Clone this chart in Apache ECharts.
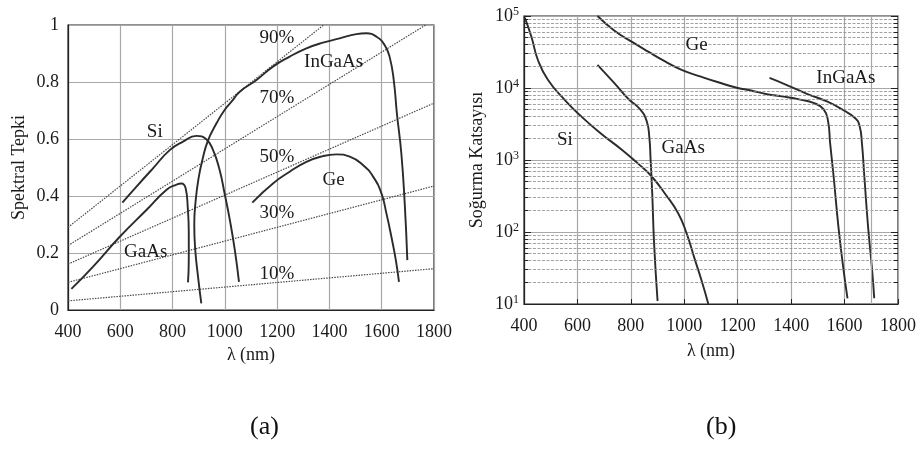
<!DOCTYPE html>
<html><head><meta charset="utf-8">
<script src="https://cdn.jsdelivr.net/npm/echarts@6/dist/echarts.min.js"></script>
<style>html,body{margin:0;padding:0;background:#fff}#c{width:922px;height:451px}</style>
</head><body><div id="c"></div>
<script>
// ---------- (a) Spectral response ----------
const wavelengthTicks = [400, 600, 800, 1000, 1200, 1400, 1600, 1800];
const responseTicks = [0, 0.2, 0.4, 0.6, 0.8, 1];

const siResponse = [[608,0.377],[662,0.433],[725,0.497],[789,0.561],[840,0.591],[891,0.611],[929,0.599],[955,0.561],[980,0.491],[999,0.409],[1019,0.316],[1038,0.211],[1054,0.099]];
const gaasResponse = [[413,0.074],[496,0.152],[598,0.257],[700,0.351],[776,0.421],[815,0.440],[834,0.444],[850,0.427],[858,0.36],[862,0.27],[862,0.18],[859,0.097]];
const ingaasResponse = [[910,0.023],[897,0.12],[886,0.22],[883,0.30],[888,0.38],[899,0.46],[915,0.53],[936,0.596],[968,0.655],[999,0.702],[1031,0.737],[1057,0.766],[1121,0.807],[1184,0.854],[1248,0.889],[1312,0.918],[1375,0.938],[1439,0.953],[1503,0.968],[1541,0.971],[1580,0.959],[1611,0.930],[1630,0.889],[1646,0.807],[1658,0.690],[1675,0.550],[1688,0.374],[1698,0.175]];
const geResponse = [[1105,0.377],[1184,0.444],[1248,0.485],[1312,0.520],[1375,0.540],[1427,0.546],[1478,0.538],[1528,0.509],[1567,0.468],[1599,0.409],[1618,0.339],[1637,0.257],[1654,0.175],[1666,0.099]];

const efficiency90 = [[400,0.29],[1378,1.0]];
const efficiency70 = [[400,0.226],[1768,1.0]];
const efficiency50 = [[400,0.161],[1800,0.726]];
const efficiency30 = [[400,0.097],[1800,0.435]];
const efficiency10 = [[400,0.032],[1800,0.145]];

const responseLabels = [['90%',1199,0.953],['70%',1199,0.743],['50%',1199,0.536],['30%',1199,0.342],['10%',1199,0.126],['InGaAs',1416,0.871],['Ge',1416,0.456],['Si',732,0.626],['GaAs',697,0.205]];

// ---------- (b) Absorption coefficient ----------
const absorptionDecades = [10, 100, 1000, 10000, 100000];
const siAbsorption = [[403,9.5e4],[428,5.1e4],[452,2.45e4],[490,1.29e4],[553,6.8e3],[615,4.0e3],[690,2.3e3],[765,1.4e3],[827,890],[878,590],[928,340],[977,182],[1009,95],[1040,41],[1065,21],[1090,10]];
const gaasAbsorption = [[675,2.1e4],[740,1.15e4],[790,7.1e3],[834,5.1e3],[859,3.5e3],[869,2.1e3],[874,1.0e3],[880,345],[887,69],[900,11]];
const geAbsorption = [[675,1.0e5],[740,6.2e4],[803,4.4e4],[865,3.2e4],[928,2.34e4],[990,1.78e4],[1059,1.45e4],[1121,1.22e4],[1200,1.0e4],[1246,9.3e3],[1309,8.2e3],[1371,7.6e3],[1434,6.9e3],[1484,6.2e3],[1521,5.1e3],[1538,3.5e3],[1546,1.7e3],[1559,590],[1577,118],[1596,30],[1611,12]];
const ingaasAbsorption = [[1319,1.38e4],[1384,1.1e4],[1459,8.3e3],[1534,6.5e3],[1596,4.9e3],[1640,3.8e3],[1656,3.0e3],[1665,1.7e3],[1674,590],[1688,118],[1703,30],[1711,12]];
const absorptionLabels = [['Ge',1046,3.96e4],['InGaAs',1605,1.36e4],['Si',553,1.9e3],['GaAs',996,1.45e3]];
const extraGridWavelength = [1700];

const FONT = '"Liberation Serif","DejaVu Serif","Times New Roman",serif';
const TXT = '#1a1a1a';
const CURVE = '#2b2b2b';
const FS = 18;

function curve(name, data, xi) {
  return { name, type: 'line', xAxisIndex: xi, yAxisIndex: xi, data, smooth: 0.5,
    showSymbol: false, silent: true, z: 4,
    lineStyle: { color: CURVE, width: 1.9 } };
}
function effLine(data) {
  return { type: 'line', xAxisIndex: 0, yAxisIndex: 0, data, showSymbol: false, silent: true, z: 3,
    lineStyle: { color: '#4a4a4a', width: 1.2, type: [1.5, 1.2] } };
}
function labelSeries(list, xi) {
  return { type: 'scatter', xAxisIndex: xi, yAxisIndex: xi, symbolSize: 1, silent: true, z: 6,
    itemStyle: { color: 'rgba(0,0,0,0)', opacity: 1 },
    data: list.map(d => ({ name: d[0], value: [d[1], d[2]] })),
    label: { show: true, position: 'inside', formatter: '{b}', color: TXT, opacity: 1, fontFamily: FONT, fontSize: 19 } };
}

// minor grid + ticks for log axis (grid positions, not data)
const minorLines = [], tickSegs = [];
for (let k = 1; k < 5; k++) {
  const base = Math.pow(10, k);
  for (let m = 2; m <= 9; m++) {
    const v = m * base;
    minorLines.push({ yAxis: v });
    tickSegs.push([{ coord: [400, v] }, { coord: [416, v] }]);
    tickSegs.push([{ coord: [1800, v] }, { coord: [1784, v] }]);
  }
}
absorptionDecades.forEach(v => {
  tickSegs.push([{ coord: [400, v] }, { coord: [426, v] }]);
  tickSegs.push([{ coord: [1800, v] }, { coord: [1774, v] }]);
});

const plainNum = v => String(v);

const option = {
  backgroundColor: '#fff',
  animation: false,
  textStyle: { fontFamily: FONT, color: TXT },
  grid: [
    { left: 68, top: 25, width: 366, height: 285, show: true, borderColor: '#222', borderWidth: 1.2, backgroundColor: 'transparent' },
    { left: 524, top: 16, width: 374, height: 288, show: true, borderColor: '#222', borderWidth: 1.2, backgroundColor: 'transparent' }
  ],
  xAxis: [
    { type: 'value', gridIndex: 0, min: 400, max: 1800, interval: 200,
      name: 'λ (nm)', nameLocation: 'middle', nameGap: 36,
      nameTextStyle: { fontFamily: FONT, fontSize: FS, color: TXT },
      axisLine: { lineStyle: { color: '#222', width: 1.2 } }, axisTick: { show: false },
      axisLabel: { fontFamily: FONT, fontSize: FS, color: TXT, margin: 13, formatter: plainNum },
      splitLine: { show: true, lineStyle: { color: '#a8a8a8', width: 1.2 } } },
    { type: 'value', gridIndex: 1, min: 400, max: 1800, interval: 200,
      name: 'λ (nm)', nameLocation: 'middle', nameGap: 38,
      nameTextStyle: { fontFamily: FONT, fontSize: FS, color: TXT },
      axisLine: { lineStyle: { color: '#222', width: 1.2 } },
      axisTick: { show: true, inside: true, length: 5, lineStyle: { color: '#222' } },
      axisLabel: { fontFamily: FONT, fontSize: FS, color: TXT, margin: 13, formatter: plainNum },
      splitLine: { show: true, lineStyle: { color: '#a8a8a8', width: 1.2 } } }
  ],
  yAxis: [
    { type: 'value', gridIndex: 0, min: 0, max: 1, interval: 0.2,
      name: 'Spektral Tepki', nameLocation: 'middle', nameGap: 40,
      nameTextStyle: { fontFamily: FONT, fontSize: FS, color: TXT },
      axisLine: { lineStyle: { color: '#222', width: 1.2 } }, axisTick: { show: false },
      axisLabel: { fontFamily: FONT, fontSize: FS, color: TXT, margin: 9 },
      splitLine: { show: true, lineStyle: { color: '#a8a8a8', width: 1.2 } } },
    { type: 'log', gridIndex: 1, min: 10, max: 100000, logBase: 10,
      name: 'Soğurma Katsayısı', nameLocation: 'middle', nameGap: 38,
      nameTextStyle: { fontFamily: FONT, fontSize: FS, color: TXT },
      axisLine: { lineStyle: { color: '#222', width: 1.2 } }, axisTick: { show: false },
      axisLabel: { margin: 5, fontFamily: FONT, color: TXT,
        formatter: v => '{b|10}{s|' + Math.round(Math.log10(v)) + '}',
        rich: { b: { fontSize: FS, fontFamily: FONT, color: TXT, lineHeight: 21 },
                s: { fontSize: 12, fontFamily: FONT, color: TXT, verticalAlign: 'top', lineHeight: 13 } } },
      splitLine: { show: true, lineStyle: { color: '#a8a8a8', width: 1.2 } } }
  ],
  series: [
    effLine(efficiency90), effLine(efficiency70), effLine(efficiency50), effLine(efficiency30), effLine(efficiency10),
    curve('Si', siResponse, 0), curve('GaAs', gaasResponse, 0), curve('InGaAs', ingaasResponse, 0), curve('Ge', geResponse, 0),
    labelSeries(responseLabels, 0),
    { type: 'line', xAxisIndex: 1, yAxisIndex: 1, data: [], silent: true, z: 2,
      markLine: { silent: true, symbol: 'none', animation: false, label: { show: false },
        lineStyle: { color: '#8a8a8a', width: 0.8, type: [3, 1.5] },
        data: minorLines } },
    { type: 'line', xAxisIndex: 1, yAxisIndex: 1, data: [], silent: true, z: 2,
      markLine: { silent: true, symbol: 'none', animation: false, label: { show: false },
        lineStyle: { color: '#a8a8a8', width: 1.2, type: 'solid' },
        data: extraGridWavelength.map(x => ({ xAxis: x })) } },
    { type: 'line', xAxisIndex: 1, yAxisIndex: 1, data: [], silent: true, z: 5,
      markLine: { silent: true, symbol: 'none', animation: false, label: { show: false },
        lineStyle: { color: '#222', width: 1, type: 'solid' },
        data: tickSegs } },
    curve('Si', siAbsorption, 1), curve('GaAs', gaasAbsorption, 1), curve('Ge', geAbsorption, 1), curve('InGaAs', ingaasAbsorption, 1),
    labelSeries(absorptionLabels, 1)
  ],
  graphic: [
    { type: 'text', left: 250, top: 414, style: { text: '(a)', fontFamily: FONT, fontSize: 26, fill: '#111' } },
    { type: 'text', left: 706, top: 414, style: { text: '(b)', fontFamily: FONT, fontSize: 26, fill: '#111' } }
  ]
};
const chart = echarts.init(document.getElementById('c'));
chart.setOption(option);
</script></body></html>
